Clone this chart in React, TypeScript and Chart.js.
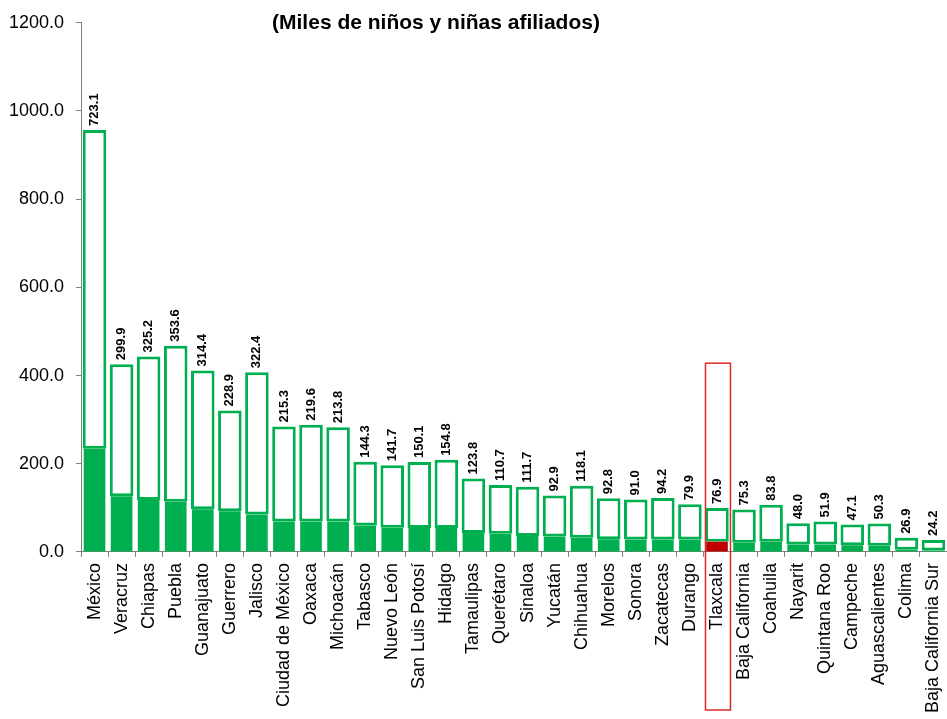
import React, { useEffect, useRef } from "react";
import { Chart, registerables } from "chart.js";

Chart.register(...registerables);

const states = [
  "México", "Veracruz", "Chiapas", "Puebla", "Guanajuato", "Guerrero", "Jalisco",
  "Ciudad de México", "Oaxaca", "Michoacán", "Tabasco", "Nuevo León", "San Luis Potosí",
  "Hidalgo", "Tamaulipas", "Querétaro", "Sinaloa", "Yucatán", "Chihuahua", "Morelos",
  "Sonora", "Zacatecas", "Durango", "Tlaxcala", "Baja California", "Coahuila", "Nayarit",
  "Quintana Roo", "Campeche", "Aguascalientes", "Colima", "Baja California Sur",
];

// lower (filled) segment
const afiliados = [
  234, 126, 118, 114, 97, 92, 85, 69, 69, 69, 60, 55, 54, 54, 43, 41, 36, 35, 32, 29,
  28, 28, 28, 23, 21, 23, 17, 17, 15, 14, 5, 3,
];

// upper (outlined) segment, labelled
const superior = [
  723.1, 299.9, 325.2, 353.6, 314.4, 228.9, 322.4, 215.3, 219.6, 213.8, 144.3, 141.7,
  150.1, 154.8, 123.8, 110.7, 111.7, 92.9, 118.1, 92.8, 91.0, 94.2, 79.9, 76.9, 75.3,
  83.8, 48.0, 51.9, 47.1, 50.3, 26.9, 24.2,
];

const yTicks = [0, 200, 400, 600, 800, 1000, 1200];
const highlight = "Tlaxcala";
const highlightTop = 428;
const title = "(Miles de niños y niñas afiliados)";

const GREEN = "#00B050";
const RED = "#C00000";
const FONT = "'Liberation Sans', Arial, sans-serif";

export default function App() {
  const ref = useRef<HTMLCanvasElement>(null);

  useEffect(() => {
    document.body.style.margin = "0";
    const hi = states.indexOf(highlight);

    const overlay = {
      id: "overlay",
      afterDatasetsDraw(chart: any) {
        const ctx = chart.ctx;
        const meta = chart.getDatasetMeta(1);
        ctx.save();
        ctx.font = `bold 13px ${FONT}`;
        ctx.fillStyle = "#000";
        ctx.textAlign = "left";
        ctx.textBaseline = "middle";
        meta.data.forEach((el: any, i: number) => {
          ctx.save();
          ctx.translate(el.x, el.y - 4);
          ctx.rotate(-Math.PI / 2);
          ctx.fillText(superior[i].toFixed(1), 0, 0);
          ctx.restore();
        });

        const xs = chart.scales.x;
        const ys = chart.scales.y;
        const cx = xs.getPixelForValue(hi);
        const top = ys.getPixelForValue(highlightTop);
        ctx.strokeStyle = "#DC2A2A";
        ctx.lineWidth = 1.5;
        ctx.strokeRect(cx - 11.5, top, 25, chart.height - 9 - top);

        ctx.font = `bold 21px ${FONT}`;
        ctx.fillStyle = "#000";
        ctx.textAlign = "center";
        ctx.textBaseline = "alphabetic";
        ctx.fillText(title, 436, 29);
        ctx.restore();
      },
    };

    const chart = new Chart(ref.current as HTMLCanvasElement, {
      type: "bar",
      data: {
        labels: states,
        datasets: [
          {
            data: afiliados,
            backgroundColor: states.map((s) => (s === highlight ? RED : GREEN)),
            borderWidth: 0,
            barPercentage: 0.8,
            categoryPercentage: 1,
          },
          {
            data: superior,
            backgroundColor: "#FFFFFF",
            borderColor: GREEN,
            borderWidth: 3,
            borderSkipped: false,
            barPercentage: 0.87,
            categoryPercentage: 1,
          },
        ],
      },
      options: {
        responsive: false,
        animation: false,
        devicePixelRatio: 1,
        layout: { padding: { left: 0, top: 21, right: -2, bottom: 0 } },
        plugins: {
          legend: { display: false },
          tooltip: { enabled: false },
          title: { display: false },
        },
        scales: {
          x: {
            stacked: true,
            afterFit: (s: any) => {
              s.paddingLeft = 0;
              s.paddingRight = 0;
            },
            grid: {
              offset: true,
              drawOnChartArea: false,
              tickLength: 5,
              color: "#808080",
            },
            border: { color: "#808080", width: 1 },
            ticks: {
              autoSkip: false,
              minRotation: 90,
              maxRotation: 90,
              padding: 6,
              color: "#000",
              font: { family: FONT, size: 18 },
            },
          },
          y: {
            stacked: true,
            min: 0,
            max: 1200,
            afterBuildTicks: (axis: any) => {
              axis.ticks = yTicks.map((v) => ({ value: v }));
            },
            afterFit: (s: any) => {
              s.width = 81;
            },
            grid: {
              drawOnChartArea: false,
              tickLength: 5,
              color: "#808080",
            },
            border: { color: "#808080", width: 1 },
            ticks: {
              padding: 12,
              color: "#000",
              font: { family: FONT, size: 18 },
              callback: (v: any) => Number(v).toFixed(1),
            },
          },
        },
      },
      plugins: [overlay],
    });

    return () => chart.destroy();
  }, []);

  return (
    <div style={{ width: 947, height: 719, background: "#fff" }}>
      <canvas ref={ref} width={947} height={719} />
    </div>
  );
}
